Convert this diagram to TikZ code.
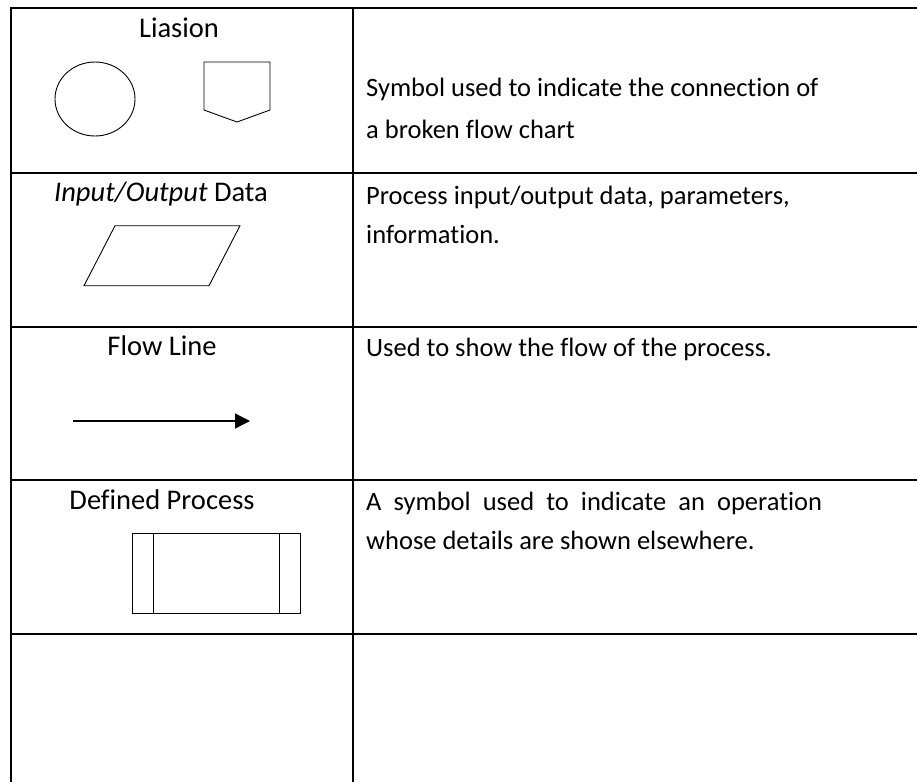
\documentclass[tikz,border=0pt]{standalone}
\usepackage{fontspec}
\setmainfont{Carlito}[RawFeature=-liga]
\usetikzlibrary{arrows.meta}
\begin{document}
\begin{tikzpicture}[x=1pt,y=-1pt,
  rule/.style={line width=1.4pt},
  symb/.style={line width=0.9pt},
  lefttxt/.style={inner sep=0pt,anchor=base,font=\fontsize{28.5}{34}\selectfont},
  righttxt/.style={inner sep=0pt,anchor=base west,font=\fontsize{26.5}{32}\selectfont}]
\useasboundingbox (0,0) rectangle (917,782);

% table rules (the table runs past the right and bottom edges)
\foreach \yy in {8,173,327,480,634}
  \draw[rule] (11,\yy) -- (917,\yy);
\draw[rule] (11,7.3) -- (11,782);
\draw[rule] (353,7.3) -- (353,782);

% row 1: connectors
\node[lefttxt] (liasion) at (179,37.7) {Liasion};
\draw[symb] (95,99) ellipse [x radius=40, y radius=37];
\draw[symb] (204,62) -- (270,62) -- (270,110) -- (237,122) -- (204,110) -- cycle;
\node[righttxt] (d1a) at (366,96.5) {Symbol used to indicate the connection of};
\node[righttxt] (d1b) at (366,138) {a broken flow chart};

% row 2: input/output
\node[lefttxt] (io) at (161,201) {\textit{Input/Output} Data};
\draw[symb] (115,225.7) -- (240,225.7) -- (209,285.7) -- (84,285.7) -- cycle;
\node[righttxt] (d2a) at (366,204) {Process input/output data, parameters,};
\node[righttxt] (d2b) at (366,243) {information.};

% row 3: flow line
\node[lefttxt] (flow) at (162,355.5) {Flow Line};
\coordinate (fs) at (73,421);
\coordinate (fe) at (250,421);
\draw[line width=1.3pt,-{Triangle[length=15pt,width=15pt]}] (fs) -- (fe);
\node[righttxt] (d3) at (366,356) {Used to show the flow of the process.};

% row 4: defined process
\node[lefttxt] (defp) at (162,509.5) {Defined Process};
\draw[symb] (132,533) rectangle (300.7,613);
\draw[symb] (153,533) -- (153,613);
\draw[symb] (279,533) -- (279,613);
\node[righttxt] (d4a) at (366,510) {\makebox[456pt][s]{A symbol used to indicate an operation}};
\node[righttxt] (d4b) at (366,549) {whose details are shown elsewhere.};
\end{tikzpicture}
\end{document}
